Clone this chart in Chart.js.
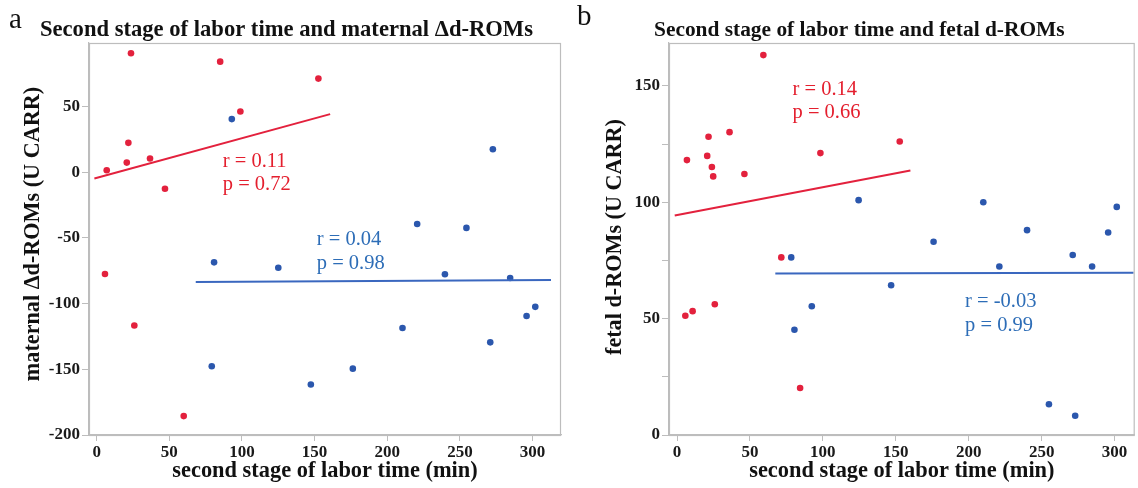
<!DOCTYPE html>
<html><head><meta charset="utf-8">
<script src="https://cdn.jsdelivr.net/npm/chart.js@4.4.1/dist/chart.umd.min.js"></script>
<style>
html,body{margin:0;padding:0;background:#fff;width:1138px;height:488px;overflow:hidden}
.wrap{position:absolute;top:0;height:488px}
#wrapA{left:0;width:570px}
#wrapB{left:570px;width:568px}
</style></head><body>
<div class="wrap" id="wrapA"><canvas id="cA" width="570" height="488"></canvas></div>
<div class="wrap" id="wrapB"><canvas id="cB" width="568" height="488"></canvas></div>
<script>
// ---- tick values ----
const xTicks = [0, 50, 100, 150, 200, 250, 300];
const maternalYTicks = [-200, -150, -100, -50, 0, 50];
const fetalYTicks = [0, 25, 50, 75, 100, 125, 150];
const fetalYLabelled = [0, 50, 100, 150];

// ---- panel a: maternal Δd-ROMs ----
const maternalRedX = [23.6, 85, 152.6, 98.9, 21.8, 20.7, 36.7, 6.9, 47, 5.7, 25.9, 59.9];
const maternalRedY = [90.5, 84.1, 71.2, 46.2, 22.3, 7.3, 10.4, 1.5, -12.6, -77.5, -116.7, -185.6];
const maternalBlueX = [93, 272.7, 80.8, 125, 79.2, 147.4, 220.6, 254.5, 239.7, 284.6, 301.9, 295.9, 210.5, 270.9, 176.3];
const maternalBlueY = [40.4, 17.4, -68.6, -72.7, -147.7, -161.6, -39.4, -42.4, -77.7, -80.5, -102.5, -109.5, -118.6, -129.5, -149.5];
const maternalRedFitX = [-1.6, 160.7];
const maternalRedFitY = [-4.8, 44.2];
const maternalBlueFitX = [68.2, 312.7];
const maternalBlueFitY = [-83.6, -82.0];

// ---- panel b: fetal d-ROMs ----
const fetalRedX = [59.2, 6.8, 21.6, 20.7, 36, 23.9, 24.8, 46.2, 98.3, 71.5, 152.7, 5.7, 10.7, 25.9, 84.4];
const fetalRedY = [163.2, 118.1, 128.1, 119.9, 130.1, 115.1, 111.1, 112.1, 121.1, 76.3, 126.1, 51.2, 53.2, 56.2, 20.2];
const fetalBlueX = [124.5, 78.3, 210, 175.9, 240, 271.3, 295.6, 301.5, 221, 284.6, 146.8, 255, 273, 92.4, 80.5];
const fetalBlueY = [100.9, 76.3, 100, 83, 88, 77.3, 87, 98, 72.4, 72.4, 64.3, 13.2, 8.3, 55.3, 45.2];
const fetalRedFitX = [-1.6, 160];
const fetalRedFitY = [94.3, 113.6];
const fetalBlueFitX = [67.4, 313];
const fetalBlueFitY = [69.4, 69.7];

const RED = '#e3213d', BLUE = '#2b57ad', BLUE_LINE = '#3a67bf', BLUE_TXT = '#2d6db7', RED_TXT = '#e41f2e';
const GRAY = '#bdbdbd';
const SERIF = '"Liberation Serif", "Times New Roman", serif';

const pts = (xs, ys) => xs.map((x, i) => ({x, y: ys[i]}));

function scatterSet(xs, ys, color) {
  return {type: 'scatter', data: pts(xs, ys), backgroundColor: color, borderColor: color,
          pointRadius: 3.3, pointHoverRadius: 3.3, borderWidth: 0};
}
function lineSet(xs, ys, color) {
  return {type: 'line', data: pts(xs, ys), borderColor: color, borderWidth: 2,
          pointRadius: 0, fill: false, tension: 0};
}

const decorPlugin = {
  id: 'decor',
  afterDraw(chart, args, o) {
    const ctx = chart.ctx, a = chart.chartArea;
    const xs = chart.scales.x, ys = chart.scales.y;
    ctx.save();
    // frame
    ctx.strokeStyle = GRAY; ctx.lineWidth = 1.2;
    ctx.strokeRect(a.left + 0.5, a.top + 0.5, a.right - a.left - 1, a.bottom - a.top);
    // panel letter
    ctx.fillStyle = '#111';
    ctx.textBaseline = 'alphabetic'; ctx.textAlign = 'left';
    ctx.font = '29px ' + SERIF;
    ctx.fillText(o.letter, o.letterX, o.letterY);
    // title
    ctx.font = 'bold ' + o.titleSize + 'px ' + SERIF;
    ctx.textBaseline = 'middle';
    ctx.fillText(o.title, o.titleX, 30);
    // x title
    ctx.font = 'bold 22.4px ' + SERIF;
    ctx.textAlign = 'center';
    ctx.fillText(o.xTitle, (a.left + a.right) / 2, 471);
    // y title
    ctx.font = 'bold 22.2px ' + SERIF;
    ctx.save();
    ctx.translate(o.yTitleX, o.yTitleY);
    ctx.rotate(-Math.PI / 2);
    ctx.fillText(o.yTitle, 0, 0);
    ctx.restore();
    // stats
    ctx.textAlign = 'left';
    ctx.font = '20.5px ' + SERIF;
    o.stats.forEach(s => {
      ctx.fillStyle = s.color;
      ctx.fillText(s.text, xs.getPixelForValue(s.x), ys.getPixelForValue(s.y));
    });
    ctx.restore();
  }
};

const tickFont = {family: SERIF, size: 17, weight: 'bold'};

function makeChart(id, cfg) {
  return new Chart(document.getElementById(id), {
    data: {datasets: cfg.datasets},
    options: {
      responsive: false, animation: false, devicePixelRatio: 1,
      layout: {padding: {top: 43, right: cfg.padRight, bottom: 0, left: 0}},
      plugins: {legend: {display: false}, tooltip: {enabled: false}, decor: cfg.decor},
      scales: {
        x: {type: 'linear', min: cfg.xMin, max: cfg.xMax,
            afterBuildTicks: s => { s.ticks = xTicks.map(v => ({value: v})); },
            afterFit: s => { s.height = 53; },
            grid: {drawOnChartArea: false, drawTicks: true, tickLength: 6, color: GRAY},
            border: {display: true, color: GRAY, width: 1.2},
            ticks: {font: tickFont, color: '#1a1a1a', padding: 1, maxRotation: 0,
                    callback: v => String(v)}},
        y: {type: 'linear', min: cfg.yMin, max: cfg.yMax,
            afterBuildTicks: s => { s.ticks = cfg.yTicks.map(v => ({value: v})); },
            afterFit: s => { s.width = cfg.yWidth; },
            grid: {drawOnChartArea: false, drawTicks: true, tickLength: 7, color: GRAY},
            border: {display: true, color: GRAY, width: 1.2},
            ticks: {font: tickFont, color: '#1a1a1a', padding: 2,
                    callback: v => cfg.yLabelled.includes(v) ? String(v) : ''}}
      }
    },
    plugins: [decorPlugin]
  });
}

makeChart('cA', {
  datasets: [
    lineSet(maternalRedFitX, maternalRedFitY, RED),
    lineSet(maternalBlueFitX, maternalBlueFitY, BLUE_LINE),
    scatterSet(maternalRedX, maternalRedY, RED),
    scatterSet(maternalBlueX, maternalBlueY, BLUE)
  ],
  xMin: -5.3, xMax: 319.6, yMin: -200, yMax: 98.3,
  yTicks: maternalYTicks, yLabelled: maternalYTicks, yWidth: 89, padRight: 9,
  decor: {
    letter: 'a', letterX: 9, letterY: 28,
    title: 'Second stage of labor time and maternal \u0394d-ROMs', titleX: 40, titleSize: 22.6,
    xTitle: 'second stage of labor time (min)',
    yTitle: 'maternal \u0394d-ROMs (U CARR)', yTitleX: 33, yTitleY: 234,
    stats: [
      {text: 'r = 0.11', x: 86.8, y: 8.3, color: RED_TXT},
      {text: 'p = 0.72', x: 86.8, y: -9.8, color: RED_TXT},
      {text: 'r = 0.04', x: 151.5, y: -51, color: BLUE_TXT},
      {text: 'p = 0.98', x: 151.5, y: -69.2, color: BLUE_TXT}
    ]
  }
});

makeChart('cB', {
  datasets: [
    lineSet(fetalRedFitX, fetalRedFitY, RED),
    lineSet(fetalBlueFitX, fetalBlueFitY, BLUE_LINE),
    scatterSet(fetalRedX, fetalRedY, RED),
    scatterSet(fetalBlueX, fetalBlueY, BLUE)
  ],
  xMin: -5.5, xMax: 313.8, yMin: 0, yMax: 168.4,
  yTicks: fetalYTicks, yLabelled: fetalYLabelled, yWidth: 99, padRight: 1,
  decor: {
    letter: 'b', letterX: 7, letterY: 25,
    title: 'Second stage of labor time and fetal d-ROMs', titleX: 84, titleSize: 21.4,
    xTitle: 'second stage of labor time (min)',
    yTitle: 'fetal d-ROMs (U CARR)', yTitleX: 45, yTitleY: 237,
    stats: [
      {text: 'r = 0.14', x: 79.2, y: 148.4, color: RED_TXT},
      {text: 'p = 0.66', x: 79.2, y: 138.4, color: RED_TXT},
      {text: 'r = -0.03', x: 197.5, y: 57.5, color: BLUE_TXT},
      {text: 'p = 0.99', x: 197.5, y: 47.2, color: BLUE_TXT}
    ]
  }
});
</script>
</body></html>
